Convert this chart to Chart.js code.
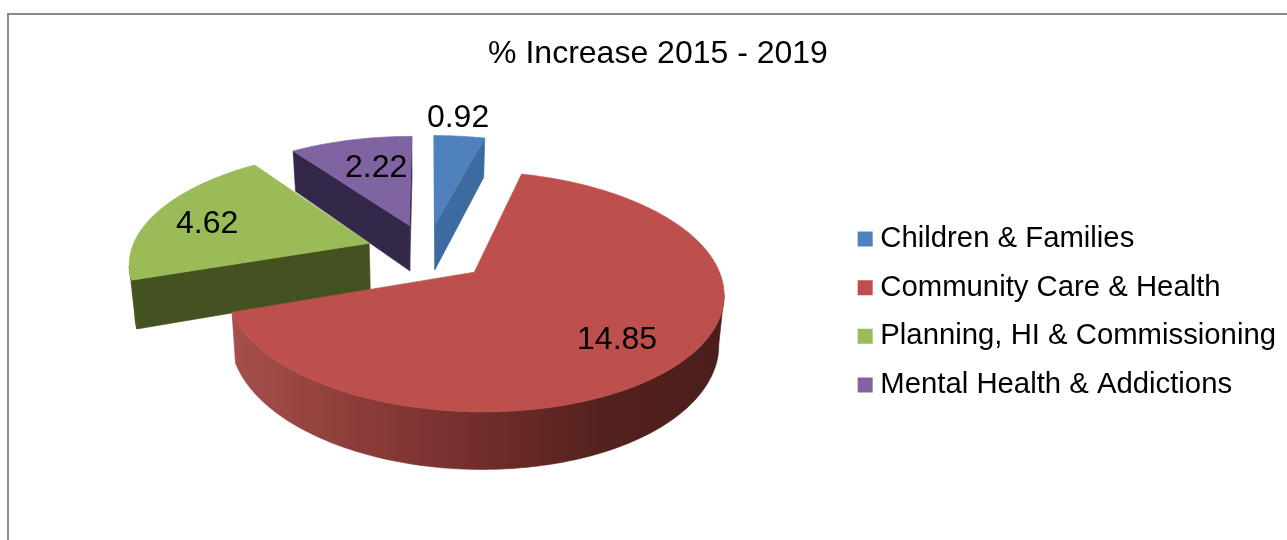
<!DOCTYPE html>
<html>
<head>
<meta charset="utf-8">
<title>% Increase 2015 - 2019</title>
<style>
  html, body { margin: 0; padding: 0; background: #fff; overflow: hidden; }
  #frame { position: absolute; left: 7px; top: 13px; right: 0; bottom: 0; border-left: 2px solid #8c8c8c; border-top: 2px solid #8c8c8c; }
  #chart { position: absolute; left: 0; top: 0; }
</style>
<script src="https://cdn.jsdelivr.net/npm/chart.js@4"></script>
</head>
<body>
<div id="frame"></div>
<canvas id="chart" width="1287" height="540"></canvas>
<script>
const categories = [
  "Children & Families",
  "Community Care & Health",
  "Planning, HI & Commissioning",
  "Mental Health & Addictions",
];
const values = [0.92, 14.85, 4.62, 2.22];
const valueLabels = ["0.92", "14.85", "4.62", "2.22"];

const faceColors = ["#4f81bd", "#bd4f4c", "#9bbb59", "#8064a2"];
const wallColors = ["#3d6a9f", "#7a302d", "#44521f", "#33274a"];
const rimStops = [
  ["#3d6a9f", "#3d6a9f"],
  ["#a64f4b", "#8d3d39", "#722e2b", "#54211e", "#4b1e1b"],
  ["#55662a", "#44521f"],
  ["#33274a", "#33274a"],
];
// value labels, on the pie's plane (1 = one radius from the centre)
const labelSpots = [
  [0.158, -1.492],
  [0.707, 0.706],
  [-0.962, -0.263],
  [-0.244, -0.86],
];

// pie seen in perspective: the library gives the angles, these map them to the page
const VIEW = { cx: 427.5, cy: 252, rx: 238.5, ry: 110.8, tilt: 0.1566, depth: 47, shrink: 0.018, explode: 0.26 };

function project(u, v, low) {
  const w = 1 - VIEW.tilt * v;
  let x = (VIEW.rx * u) / w;
  let y = (VIEW.ry * v) / w;
  if (low) {
    x *= 1 - VIEW.shrink;
    y += VIEW.depth / w;
  }
  return { x: VIEW.cx + x, y: VIEW.cy + y };
}

function polygon(ctx, points, fill) {
  ctx.beginPath();
  points.forEach((p, i) => (i ? ctx.lineTo(p.x, p.y) : ctx.moveTo(p.x, p.y)));
  ctx.closePath();
  ctx.fillStyle = fill;
  ctx.strokeStyle = fill;
  ctx.lineWidth = 0.6;
  ctx.fill();
  ctx.stroke();
}

// a wall shows only when the extrusion (straight down) goes away from the slice's inside
function facesViewer(a, b, inside) {
  const ex = b.x - a.x;
  const ey = b.y - a.y;
  const side = ex * (inside.y - a.y) - ey * (inside.x - a.x);
  return side * ex < 0;
}

function drawSlice(ctx, arc, index) {
  const { startAngle, endAngle } = arc.getProps(["startAngle", "endAngle"]);
  const mid = (startAngle + endAngle) / 2;
  const ax = VIEW.explode * Math.cos(mid);
  const ay = VIEW.explode * Math.sin(mid);
  const steps = Math.max(8, Math.round((endAngle - startAngle) * 40));
  const rim = [];
  for (let i = 0; i <= steps; i++) {
    const t = startAngle + ((endAngle - startAngle) * i) / steps;
    rim.push([ax + Math.cos(t), ay + Math.sin(t)]);
  }
  const apex = project(ax, ay);
  const apexLow = project(ax, ay, true);
  const inside = project(ax + 0.5 * Math.cos(mid), ay + 0.5 * Math.sin(mid));

  // rim, only the run that faces the viewer
  const top = [];
  const low = [];
  for (let i = 0; i < steps; i++) {
    const a = project(rim[i][0], rim[i][1]);
    const b = project(rim[i + 1][0], rim[i + 1][1]);
    if (facesViewer(a, b, apex)) {
      if (!top.length) {
        top.push(a);
        low.push(project(rim[i][0], rim[i][1], true));
      }
      top.push(b);
      low.push(project(rim[i + 1][0], rim[i + 1][1], true));
    }
  }
  if (top.length) {
    const xs = top.map((p) => p.x);
    const grad = ctx.createLinearGradient(Math.min(...xs), 0, Math.max(...xs), 0);
    rimStops[index].forEach((c, i, all) => grad.addColorStop(i / (all.length - 1), c));
    polygon(ctx, top.concat(low.reverse()), grad);
  }

  // the two straight walls
  [rim[0], rim[steps]].forEach((end) => {
    const p = project(end[0], end[1]);
    if (facesViewer(apex, p, inside)) {
      polygon(ctx, [apex, p, project(end[0], end[1], true), apexLow], wallColors[index]);
    }
  });

  // top face
  polygon(ctx, [apex].concat(rim.map((r) => project(r[0], r[1]))), faceColors[index]);
}

const pie3dPlugin = {
  id: "pie3d",
  beforeDatasetsDraw(chart) {
    const ctx = chart.ctx;
    const arcs = chart.getDatasetMeta(0).data.map((arc, index) => ({ arc, index }));
    // back to front
    arcs.sort((a, b) => Math.sin((a.arc.startAngle + a.arc.endAngle) / 2) - Math.sin((b.arc.startAngle + b.arc.endAngle) / 2));
    ctx.save();
    arcs.forEach((item) => drawSlice(ctx, item.arc, item.index));
    ctx.fillStyle = "#000";
    ctx.font = "32px 'Liberation Sans'";
    ctx.textAlign = "center";
    ctx.textBaseline = "middle";
    valueLabels.forEach((text, i) => {
      const p = project(labelSpots[i][0], labelSpots[i][1]);
      ctx.fillText(text, p.x, p.y);
    });
    ctx.restore();
    return false; // flat arcs are not drawn
  },
};

new Chart(document.getElementById("chart"), {
  type: "pie",
  data: {
    labels: categories,
    datasets: [{ data: values, backgroundColor: faceColors, borderWidth: 0 }],
  },
  plugins: [pie3dPlugin],
  options: {
    responsive: false,
    animation: false,
    layout: { padding: { left: 30, right: 1 } },
    plugins: {
      tooltip: { enabled: false },
      title: {
        display: true,
        text: "% Increase 2015 - 2019",
        color: "#000",
        font: { family: "'Liberation Sans'", size: 32, weight: "normal" },
        padding: { top: 35, bottom: 10.6 },
      },
      legend: {
        position: "right",
        fullSize: false,
        labels: {
          color: "#000",
          font: { family: "'Liberation Sans'", size: 29.3 },
          padding: 19.37,
          boxWidth: 1,
          boxHeight: 1,
          // the square comes from a wide stroke, this keeps the text close to it
          generateLabels: () =>
            categories.map((text, i) => ({
              text,
              fillStyle: faceColors[i],
              strokeStyle: faceColors[i],
              lineWidth: 14,
              index: i,
            })),
        },
      },
    },
  },
});
</script>
</body>
</html>
